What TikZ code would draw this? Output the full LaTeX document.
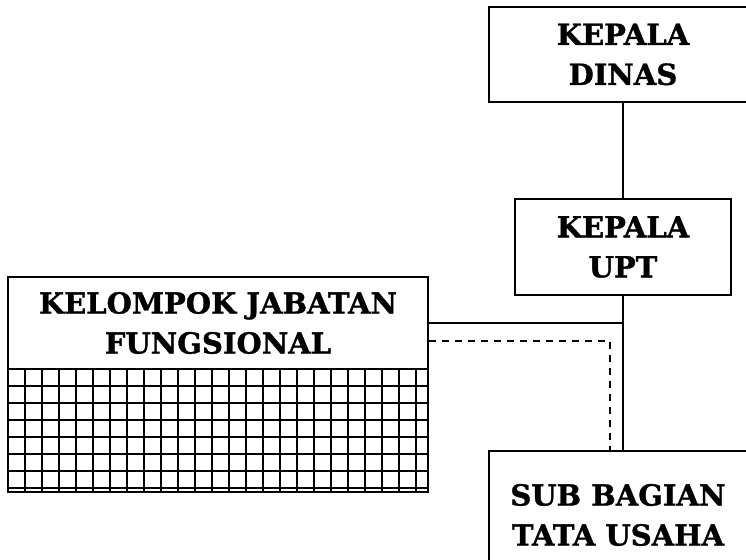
\documentclass[tikz,border=0pt]{standalone}
\usepackage{fontspec}
\setmainfont{DejaVu Serif}[BoldFeatures={FakeBold=1.2}]
\usetikzlibrary{positioning}

\begin{document}
\begin{tikzpicture}[x=1pt,y=-1pt,
    orgbox/.style={draw, line width=2.2pt, align=center, inner sep=0pt,
      font=\bfseries\fontsize{29}{40}\selectfont},
    link/.style={line width=2pt},
    dashlink/.style={line width=2pt, dash pattern=on 7pt off 6pt},
    gridline/.style={line width=1.6pt}]
  \useasboundingbox (0,0) rectangle (746,559);

  \node[orgbox, minimum width=268pt, minimum height=95pt] (dinas) at (623,54.5) {KEPALA\\DINAS};
  \node[orgbox, minimum width=216pt, minimum height=96pt] (upt) at (623,247) {KEPALA\\UPT};
  \node[orgbox, minimum width=258pt, minimum height=128pt] (sub) at (618,515) {SUB BAGIAN\\TATA USAHA};
  \node[orgbox, minimum width=420pt, minimum height=92pt] (fungsi) at (218,323) {KELOMPOK JABATAN\\FUNGSIONAL};

  % kotak kotak
  \draw[gridline] foreach \x in {25,42,...,416} {(\x,369) -- (\x,492)};
  \draw[gridline] foreach \y in {386,403,...,488} {(8,\y) -- (428,\y)};
  \node[draw, line width=2.2pt, minimum width=420pt, minimum height=123pt, inner sep=0pt] (grid) at (218,430.5) {};

  \coordinate (dashbend) at (610,341);

  \draw[link] (dinas.south) -- (upt.north);
  \draw[link] (upt.south) -- (upt.south |- sub.north);
  \draw[link] (fungsi.east) -- (fungsi.east -| upt.south);
  \draw[dashlink] (fungsi.east |- dashbend) -- (dashbend) -- (dashbend |- sub.north);
\end{tikzpicture}
\end{document}
